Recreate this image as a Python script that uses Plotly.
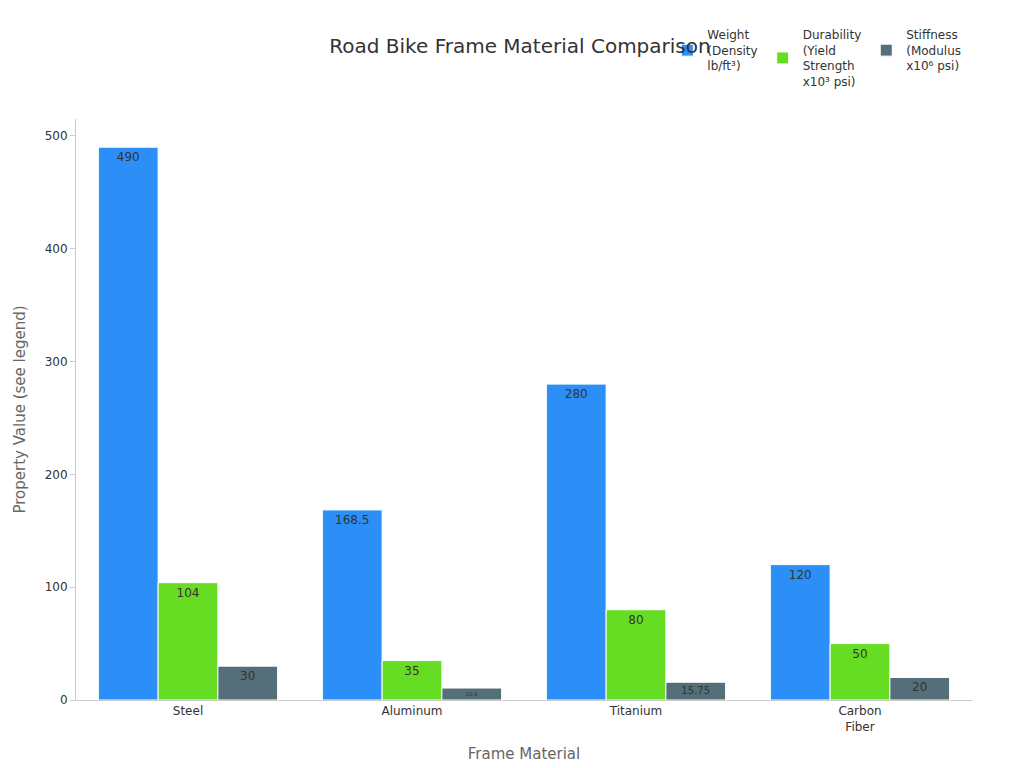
import plotly.graph_objects as go

materials = ["Steel", "Aluminum", "Titanium", "Carbon<br>Fiber"]
weight = [490, 168.5, 280, 120]
durability = [104, 35, 80, 50]
stiffness = [30, 10.6, 15.75, 20]
names = ["Weight<br>(Density<br>lb/ft³)", "Durability<br>(Yield<br>Strength<br>x10³ psi)", "Stiffness<br>(Modulus<br>x10⁶ psi)"]
colors = ["#2b8ff7", "#66dd22", "#546e7a"]

fig = go.Figure()
for n, v, c in zip(names, [weight, durability, stiffness], colors):
    fig.add_trace(go.Bar(x=materials, y=v, name=n, marker=dict(color=c, line=dict(color="white", width=1)),
                         text=[f"{x:g}" for x in v], textposition="inside", insidetextanchor="end",
                         textfont=dict(color="#333333", size=12)))
fig.update_layout(
    width=1024, height=768, barmode="group", bargap=0.2, bargroupgap=0,
    template="simple_white",
    font=dict(family="DejaVu Sans", color="#333333", size=12),
    title=dict(text="Road Bike Frame Material Comparison", x=0.5, xanchor="center", y=0.96, font=dict(size=20)),
    legend=dict(orientation="h", x=0.66, y=1.17, xanchor="left", yanchor="top", font=dict(size=12)),
    margin=dict(l=68, r=60, t=100, b=76),
    xaxis=dict(title=dict(text="Frame Material", font=dict(size=15, color="#666666")), linecolor="#cccccc", ticks=""),
    yaxis=dict(title=dict(text="Property Value (see legend)", font=dict(size=15, color="#666666")), linecolor="#cccccc",
               range=[0, 515], tickcolor="#cccccc"),
)
fig.write_html("out.html")
